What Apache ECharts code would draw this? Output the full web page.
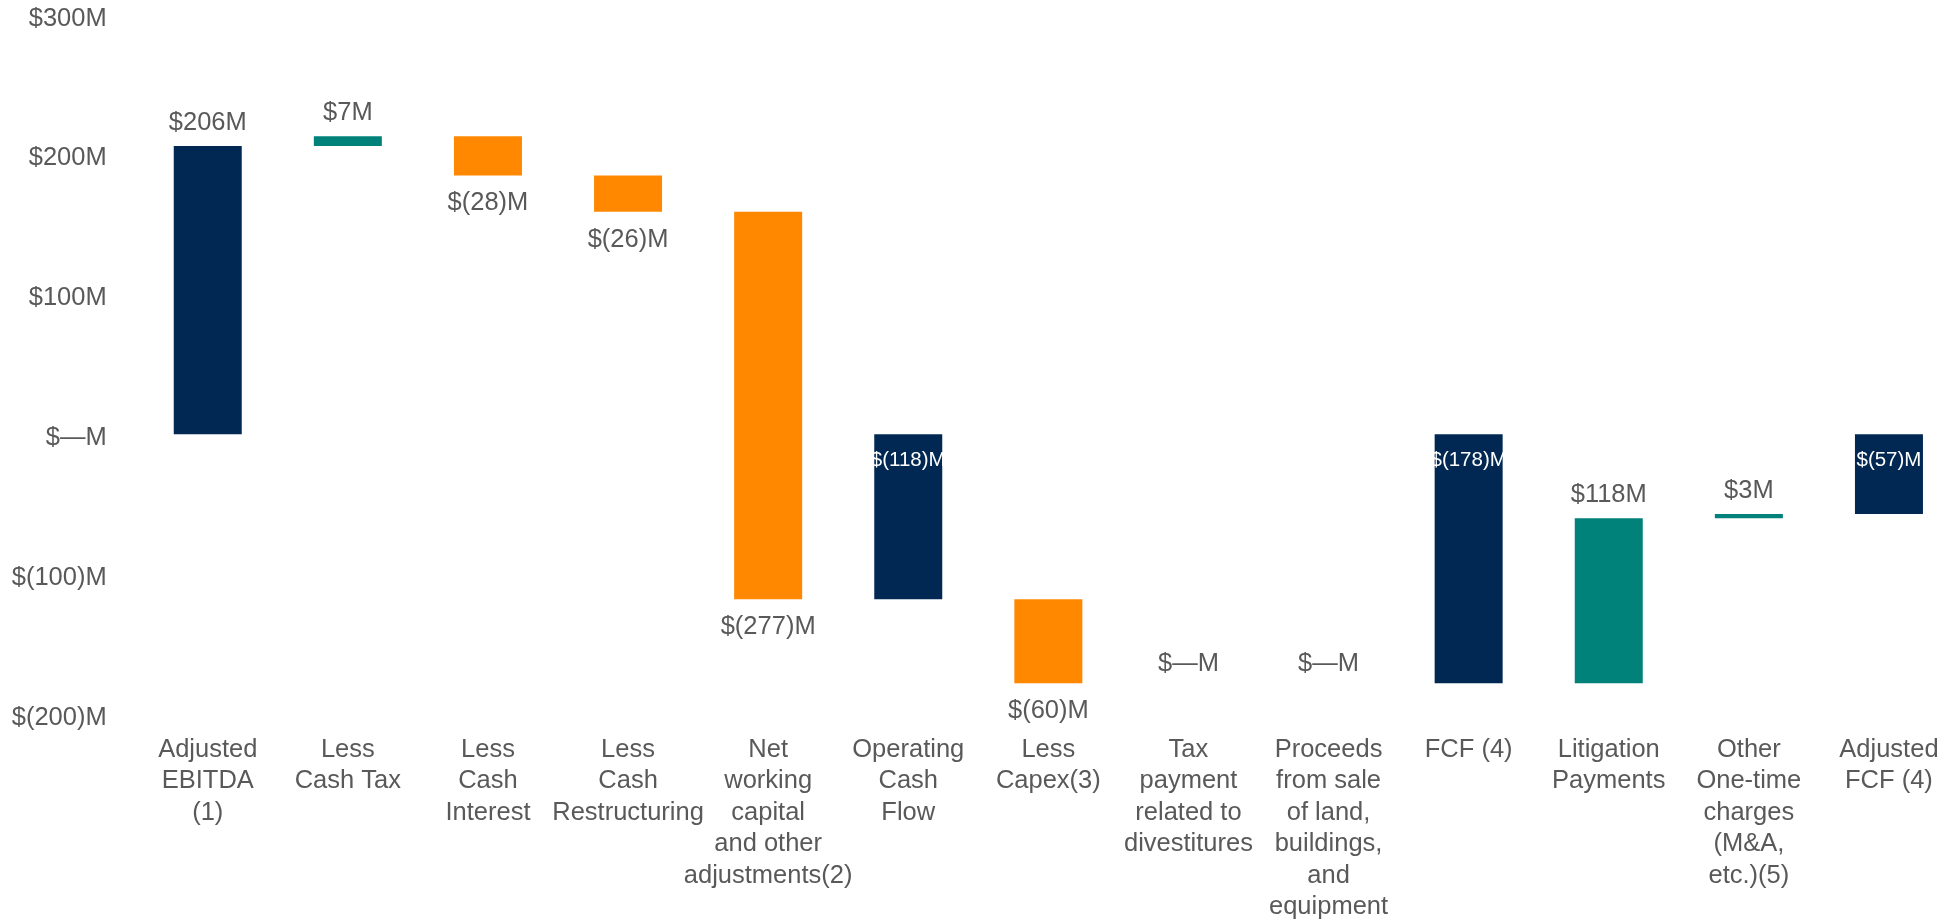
<!DOCTYPE html>
<html>
<head>
<meta charset="utf-8">
<script src="https://cdn.jsdelivr.net/npm/echarts@6/dist/echarts.min.js"></script>
<style>
  html, body { margin: 0; padding: 0; background: #fff; }
  #chart { width: 1959px; height: 923px; }
</style>
</head>
<body>
<div id="chart"></div>
<script>
// bridge categories (line breaks as in the slide)
const categories = [
    'Adjusted\nEBITDA\n(1)',
    'Less\nCash Tax',
    'Less\nCash\nInterest',
    'Less\nCash\nRestructuring',
    'Net\nworking\ncapital\nand other\nadjustments(2)',
    'Operating\nCash\nFlow',
    'Less\nCapex(3)',
    'Tax\npayment\nrelated to\ndivestitures',
    'Proceeds\nfrom sale\nof land,\nbuildings,\nand\nequipment',
    'FCF (4)',
    'Litigation\nPayments',
    'Other\nOne-time\ncharges\n(M&A,\netc.)(5)',
    'Adjusted\nFCF (4)'
];

// $M, change for each step (totals hold the subtotal itself)
const changes = [206, 7, -28, -26, -277, -118, -60, 0, 0, -178, 118, 3, -57];
const isTotal = [true, false, false, false, false, true, false, false, false, true, false, false, true];

const yTicks = [-200, -100, 0, 100, 200, 300];

const navy = '#002852';
const teal = '#00827A';
const orange = '#FF8800';
const grey = '#595959';
const font = 'Arial, "Liberation Sans", Helvetica, sans-serif';

function money(v) {
    if (v === 0) return '$\u2014M';
    if (v < 0) return '$(' + Math.abs(v) + ')M';
    return '$' + v + 'M';
}

// invisible base under each floating bar
let running = 0;
const bases = changes.map((v, i) => {
    if (isTotal[i]) {
        running = v;
        return 0;
    }
    const b = running;
    running += v;
    return b;
});

const visible = changes.map((v, i) => {
    let color, label;
    if (isTotal[i]) {
        color = navy;
        if (v >= 0) {
            label = { position: 'top', distance: 10, color: grey, fontSize: 25.5 };
        } else {
            label = { position: 'insideTop', distance: 16, color: '#fff', fontSize: 20.5 };
        }
    } else if (v < 0) {
        color = orange;
        label = { position: 'bottom', distance: 15, color: grey, fontSize: 25.5 };
    } else if (v === 0) {
        color = teal;
        label = { position: 'top', distance: 6, color: grey, fontSize: 25.5 };
    } else {
        color = teal;
        label = { position: 'top', distance: 10, color: grey, fontSize: 25.5 };
    }
    return { value: v, itemStyle: { color: color }, label: label };
});

let option = {
    backgroundColor: '#fff',
    animation: false,
    textStyle: { fontFamily: font },
    grid: {
        left: 137.7,
        top: 14.5,
        width: 1827.8,
        height: 700
    },
    xAxis: {
        type: 'category',
        data: categories,
        axisLine: { show: false },
        axisTick: { show: false },
        axisLabel: {
            interval: 0,
            margin: 20,
            color: grey,
            fontSize: 25.5,
            lineHeight: 31.5,
            fontFamily: font,
            align: 'center',
            verticalAlign: 'top'
        }
    },
    yAxis: {
        type: 'value',
        min: yTicks[0],
        max: yTicks[yTicks.length - 1],
        interval: 100,
        splitLine: { show: false },
        axisLine: { show: false },
        axisTick: { show: false },
        axisLabel: {
            margin: 31,
            color: grey,
            fontSize: 25.5,
            fontFamily: font,
            verticalAlign: 'top',
            lineHeight: 8,
            formatter: (v) => money(v)
        }
    },
    series: [
        {
            type: 'bar',
            stack: 'bridge',
            stackStrategy: 'all',
            barWidth: 68,
            itemStyle: { color: 'transparent' },
            emphasis: { disabled: true },
            data: bases
        },
        {
            type: 'bar',
            stack: 'bridge',
            stackStrategy: 'all',
            barWidth: 68,
            label: {
                show: true,
                fontFamily: font,
                formatter: (p) => money(p.value)
            },
            data: visible
        }
    ]
};

let chart = echarts.init(document.getElementById('chart'));
chart.setOption(option);
</script>
</body>
</html>
